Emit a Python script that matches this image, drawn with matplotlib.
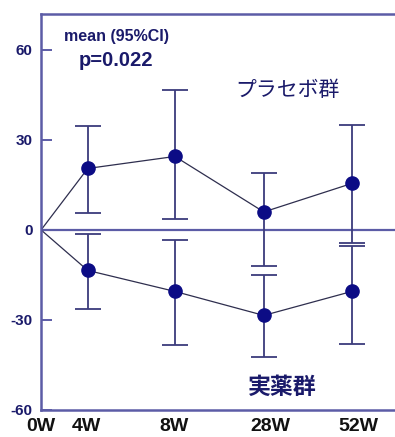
import matplotlib
matplotlib.use("Agg")
import matplotlib.pyplot as plt
import matplotlib.transforms as mtransforms

# weeks and mean change with 95% CI
weeks = ["0W", "4W", "8W", "28W", "52W"]
placebo_mean = [0, 20.5, 24.5, 6, 15.5]
placebo_hi = [0, 34.5, 46.5, 19, 35]
placebo_lo = [0, 5.5, 3.5, -12, -4.5]
drug_mean = [0, -13.5, -20.5, -28.5, -20.5]
drug_hi = [0, -1.5, -3.5, -15, -5.5]
drug_lo = [0, -26.5, -38.5, -42.5, -38]
yticks = [60, 30, 0, -30, -60]

# x placement of the visits (0W sits on the axis)
xpos = [0, 0.53, 1.52, 2.53, 3.53]

navy = "#0c0c85"
spine_c = "#5c5ca6"
bar_c = "#3c3c7c"
line_c = "#2e2e4e"
txt_c = "#1a1a6a"

fig = plt.figure(figsize=(3.95, 4.37), dpi=100)
ax = fig.add_axes([0.104, 0.062, 0.896, 0.906])

ax.axhline(0, color=spine_c, lw=1.6, zorder=1)

for m, hi, lo in [(placebo_mean, placebo_hi, placebo_lo), (drug_mean, drug_hi, drug_lo)]:
    ax.plot(xpos, m, color=line_c, lw=0.9, zorder=2)
    for x, mv, h, l in zip(xpos[1:], m[1:], hi[1:], lo[1:]):
        ax.errorbar(x, mv, yerr=[[mv - l], [h - mv]], fmt="none",
                    ecolor=bar_c, elinewidth=1.3, capsize=9.5, capthick=1.3, zorder=3)
    ax.plot(xpos[1:], m[1:], "o", color=navy, ms=9.5, zorder=4)

ax.set_xlim(0, 4.02)
ax.set_ylim(-60, 72)

ax.spines["right"].set_visible(False)
for s in ["left", "top", "bottom"]:
    ax.spines[s].set_color(spine_c)
    ax.spines[s].set_linewidth(1.8)

ax.set_yticks(yticks)
ax.set_yticklabels([str(v) for v in yticks], fontfamily="Liberation Sans",
                   fontweight="bold", fontsize=11, color=txt_c)
ax.tick_params(axis="y", direction="in", length=8, width=1.4, color=spine_c, pad=6)

ax.set_xticks(xpos)
ax.set_xticklabels(weeks, fontfamily="Liberation Sans", fontweight="bold",
                   fontsize=14, color="#111111")
ax.tick_params(axis="x", length=0, pad=6)
shift = [0, -1, -1, 7, 7]
for lab, dx in zip(ax.get_xticklabels(), shift):
    lab.set_transform(lab.get_transform() + mtransforms.ScaledTranslation(dx / 100, 0, fig.dpi_scale_trans))

ax.text(0.86, 64.5, "mean (95%CI)", fontfamily="Liberation Sans", fontweight="bold",
        fontsize=11.5, color=txt_c, ha="center", va="center")
ax.text(0.85, 56.5, "p=0.022", fontfamily="Liberation Sans", fontweight="bold",
        fontsize=14.5, color=txt_c, ha="center", va="center")
ax.text(2.8, 46.5, "プラセボ群", fontfamily="Noto Sans CJK JP", fontsize=15,
        color=txt_c, ha="center", va="center")
ax.text(2.74, -52.5, "実薬群", fontfamily="Noto Sans CJK JP", fontweight="bold",
        fontsize=16.5, color=txt_c, ha="center", va="center")

fig.savefig("out.png", dpi=100, facecolor="white")
